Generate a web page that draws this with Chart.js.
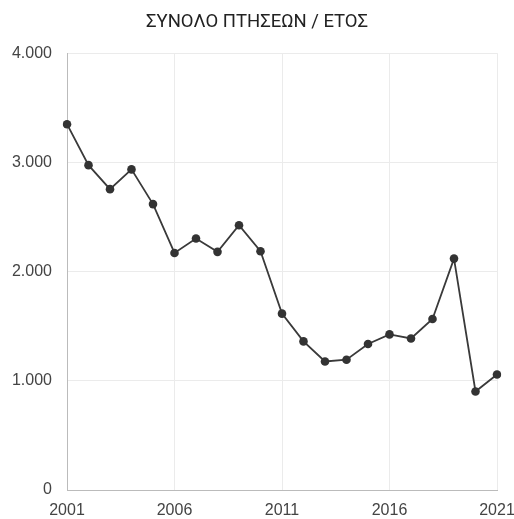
<!DOCTYPE html>
<html>
<head>
<meta charset="utf-8">
<script src="https://cdn.jsdelivr.net/npm/chart.js@4/dist/chart.umd.min.js"></script>
<style>
  html, body { margin: 0; padding: 0; background: #fff; }
  #wrap { width: 514px; height: 519px; }
</style>
</head>
<body>
<div id="wrap"><canvas id="grafico"></canvas></div>
<script>
// Dados
const anos = ["2001", "2002", "2003", "2004", "2005", "2006", "2007", "2008", "2009", "2010",
  "2011", "2012", "2013", "2014", "2015", "2016", "2017", "2018", "2019", "2020", "2021"];
const ptiseis = [3350, 2975, 2755, 2936, 2618, 2171, 2303, 2181, 2425, 2186,
  1615, 1361, 1177, 1193, 1337, 1425, 1388, 1566, 2119, 902, 1058];
const yTicks = [0, 1000, 2000, 3000, 4000];
const titulo = "ΣΥΝΟΛΟ ΠΤΗΣΕΩΝ / ΕΤΟΣ";

const fonte = "'Liberation Sans', Arial, Helvetica, sans-serif";

// mostra só de 5 em 5 anos
function marca(i) {
  return i % 5 === 0;
}

function formatar(v) {
  return String(v).replace(/\B(?=(\d{3})+(?!\d))/g, ".");
}

const ctx = document.getElementById("grafico").getContext("2d");

new Chart(ctx, {
  type: "line",
  data: {
    labels: anos,
    datasets: [
      {
        data: ptiseis,
        borderColor: "#3a3a3a",
        backgroundColor: "#333",
        borderWidth: 1.8,
        pointRadius: 4.3,
        pointHoverRadius: 4.3,
        pointBackgroundColor: "#333",
        pointBorderWidth: 0,
        tension: 0,
      },
    ],
  },
  options: {
    responsive: true,
    maintainAspectRatio: false,
    animation: false,
    layout: {
      padding: { left: 0, right: 0, top: 11, bottom: 0 },
    },
    plugins: {
      legend: { display: false },
      tooltip: { enabled: false },
      title: {
        display: true,
        text: titulo,
        color: "#222",
        font: { family: "Roboto, " + fonte, size: 18.5, weight: "normal", lineHeight: 1.2 },
        padding: { top: 0, bottom: 20 },
      },
    },
    scales: {
      x: {
        grid: {
          color: (c) => (marca(c.index) ? "#ebebeb" : "rgba(0,0,0,0)"),
          drawTicks: false,
        },
        border: { color: "#bbb", width: 1 },
        ticks: {
          autoSkip: false,
          maxRotation: 0,
          padding: 13,
          color: "#444",
          font: { family: fonte, size: 16, lineHeight: 1 },
          callback: (val, i) => (marca(i) ? anos[i] : ""),
        },
        afterFit: (axis) => {
          axis.height = 29;
          axis.paddingLeft = 0;
          axis.paddingRight = 17;
        },
      },
      y: {
        min: 0,
        max: 4000,
        afterBuildTicks: (axis) => {
          axis.ticks = yTicks.map((v) => ({ value: v }));
        },
        afterFit: (axis) => {
          axis.width = 67;
        },
        grid: { color: "#ebebeb", drawTicks: false },
        border: { color: "#bbb", width: 1 },
        ticks: {
          padding: 15,
          color: "#444",
          font: { family: fonte, size: 16 },
          callback: (v) => formatar(v),
        },
      },
    },
  },
});
</script>
</body>
</html>
